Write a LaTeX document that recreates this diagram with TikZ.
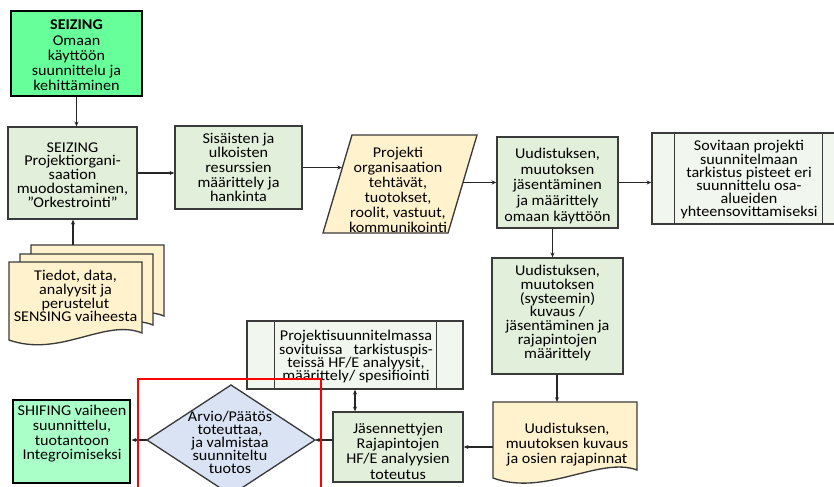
\documentclass[tikz,border=0pt]{standalone}
\usepackage{fontspec}
\setmainfont{Carlito}[FakeStretch=1.08]
\usetikzlibrary{arrows.meta,calc}
\definecolor{mint}{HTML}{66FF99}
\definecolor{mintlight}{HTML}{AAFFC8}
\definecolor{sage}{HTML}{E2EFDA}
\definecolor{sagepale}{HTML}{F1F7EE}
\definecolor{paper}{HTML}{FFF2CC}
\definecolor{skyfill}{HTML}{DAE3F3}
\definecolor{edge}{HTML}{3A3A3A}
\begin{document}
\begin{tikzpicture}[x=0.75pt,y=-0.75pt,
  every node/.style={inner sep=0pt},
  sz/.style 2 args={minimum width=#1*0.75pt,minimum height=#2*0.75pt},
  keybox/.style={rectangle,draw=black,line width=2.2pt},
  gbox/.style={rectangle,draw=edge,line width=1pt,fill=sage},
  pbox/.style={rectangle,draw=edge,line width=1pt,fill=sagepale},
  outline/.style={draw=edge,line width=1pt},
  txt/.style={align=center,font=\fontsize{11.2pt}{#1pt}\selectfont},
  arr/.style={draw=black!85,line width=0.9pt,-{Stealth[length=3.6pt,width=3pt]}},
  darr/.style={draw=black!85,line width=0.9pt,{Stealth[length=3.6pt,width=3pt]}-{Stealth[length=3.6pt,width=3pt]}},
]
\useasboundingbox (0,0) rectangle (834,486);
\clip (0,0) rectangle (834,486);

% starting point of the phase
\node[keybox,fill=mint,sz={131}{85}] (s1) at (76.5,53.5) {};
\node[txt=11.4] (s1t) at (76.5,55.5) {\textbf{SEIZING}\\Omaan\\käyttöön\\suunnittelu ja\\kehittäminen};

% project organisation
\node[gbox,sz={129}{92}] (s2) at (72.5,173) {};
\node[txt=10.4] (s2t) at (72.5,175) {SEIZING\\Projektiorgani-\\saation\\muodostaminen,\\”Orkestrointi”};

\node[gbox,sz={127}{83}] (s3) at (238.5,167.5) {};
\node[txt=11] (s3t) at (238.5,167.5) {Sisäisten ja\\ulkoisten\\resurssien\\määrittely ja\\hankinta};

% data/input parallelogram
\draw[outline,fill=paper] (352,135) -- (477,135) -- (448,233) -- (323,233) -- cycle;
\node[txt=11.25] (pt) at (398,190) {Projekti\\organisaation\\tehtävät,\\tuotokset,\\roolit, vastuut,\\kommunikointi};
\coordinate (pin) at (342,167.5);
\coordinate (pout) at (463,182.5);

\node[gbox,sz={121}{91}] (s4) at (557.5,182.5) {};
\node[txt=11.7] (s4t) at (557.5,186) {Uudistuksen,\\muutoksen\\jäsentäminen\\ja määrittely\\omaan käyttöön};

% predefined process: checkpoints
\node[pbox,sz={193}{91}] (s5) at (748.5,178.5) {};
\draw[outline] ($(s5.north west)+(23,0)$) -- ($(s5.south west)+(23,0)$);
\draw[outline] ($(s5.north east)+(-23,0)$) -- ($(s5.south east)+(-23,0)$);
\node[txt=9.9] (s5t) at (749,180) {Sovitaan projekti\\suunnitelmaan\\tarkistus pisteet eri\\suunnittelu osa-\\alueiden\\yhteensovittamiseksi};

\node[gbox,sz={131}{116}] (s6) at (557.5,316) {};
\node[txt=10.3] (s6t) at (557.5,313) {Uudistuksen,\\muutoksen\\(systeemin)\\kuvaus /\\jäsentäminen ja\\rajapintojen\\määrittely};

% document: description and interfaces
\draw[outline,fill=paper] (493,402) -- (637,402) -- (637,470)
  .. controls (600,456) and (545,497) .. (493,478) -- cycle;
\node[txt=11.25] (d2t) at (567,445) {Uudistuksen,\\muutoksen kuvaus\\ja osien rajapinnat};
\coordinate (d2top) at (557,402);
\coordinate (d2left) at (493,447);

\node[gbox,sz={130}{70}] (s7) at (398,447) {};
\node[txt=11.5] (s7t) at (398,451) {Jäsennettyjen\\Rajapintojen\\HF/E analyysien\\toteutus};

% predefined process: HF/E analyses
\node[pbox,sz={216}{68}] (s8) at (355,355) {};
\draw[outline] ($(s8.north west)+(28,0)$) -- ($(s8.south west)+(28,0)$);
\draw[outline] ($(s8.north east)+(-27,0)$) -- ($(s8.south east)+(-27,0)$);
\node[txt=10] (s8t) at (356,357) {Projektisuunnitelmassa\\sovituissa\ \ \ tarkistuspis-\\teissä HF/E analyysit,\\määrittely/ spesifiointi};

% decision
\draw[outline,fill=skyfill] (231,385) -- (315,440) -- (231,495) -- (147,440) -- cycle;
\node[txt=9.8] (dt) at (230,442) {Arvio/Päätös\\toteuttaa,\\ja valmistaa\\suunniteltu\\tuotos};
\coordinate (dR) at (315,440);
\coordinate (dL) at (147,440);

\node[keybox,fill=mintlight,sz={117}{83}] (sh) at (71.5,441.5) {};
\node[txt=11] (sht) at (72,434) {SHIFING vaiheen\\suunnittelu,\\tuotantoon\\Integroimiseksi};

% stacked documents from the sensing phase
\foreach \dx/\dy in {22/-17,11/-8,0/0}{
  \begin{scope}[shift={(\dx,\dy)}]
    \draw[outline,fill=paper] (9,262) -- (142,262) -- (142,333)
      .. controls (105,318) and (60,358) .. (9,340) -- cycle;
  \end{scope}
}
\node[txt=10.4] (dst) at (75.5,296) {Tiedot, data,\\analyysit ja\\perustelut\\SENSING vaiheesta};
\coordinate (dback) at (73,245);

% connectors
\draw[arr] (s1.south) -- (s1.south |- s2.north);
\draw[arr] (dback) -- (dback |- s2.south);
\draw[arr] (s2.east) -- (s2.east -| s3.west);
\draw[arr] (s3.east) -- (pin);
\draw[arr] (pout) -- (pout -| s4.west);
\draw[arr] (s4.east) -- (s4.east -| s5.west);
\draw[arr] ([xshift=-3.75pt]s4.south) -- ([xshift=-3.75pt]s4.south |- s6.north);
\draw[arr] (s6.south -| d2top) -- (d2top);
\draw[arr] (d2left) -- (d2left -| s7.east);
\draw[darr] (s8.south) -- (s8.south |- s7.north);
\draw[arr] (s7.west |- dR) -- (dR);
\draw[arr] (dL) -- (dL -| sh.east);

% highlight frame
\draw[red,line width=2.2pt] (138,492) -- (138,379) -- (321,379) -- (321,492);
\end{tikzpicture}
\end{document}
